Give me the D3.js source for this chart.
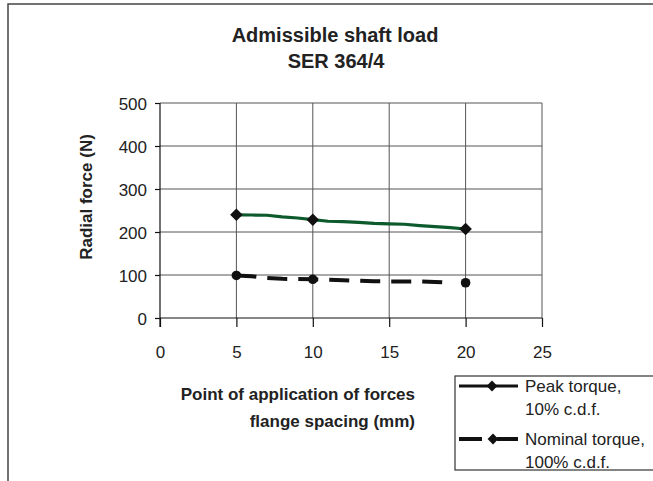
<!DOCTYPE html>
<html><head><meta charset="utf-8">
<script src="https://cdn.jsdelivr.net/npm/d3@7"></script>
<style>body{margin:0;background:#fff}svg{display:block;font-family:"Liberation Sans",Arial,sans-serif}</style>
</head><body>
<svg id="c" width="653" height="481"></svg>
<script>
const titleLines = ["Admissible shaft load", "SER 364/4"];
const yTitle = "Radial force (N)";
const xTitleLines = ["Point of application of forces", "flange spacing (mm)"];
const xTicks = [0, 5, 10, 15, 20, 25];
const yTicks = [0, 100, 200, 300, 400, 500];
const positions = [5,6,7,8,9,10,11,12,13,14,15,16,17,18,19,20];
const peakTorque = [240,239.5,239,235,232.5,228.7,225,224,222.5,220,219,218,215,212.5,210,207];
const nominalTorque = [99,97,93,91,90.5,90,89,88,86.5,85.5,85,85,85,84,82,82];
const markerPositions = [5, 10, 20];
const legendLabels = [["Peak torque,", "10% c.d.f."], ["Nominal torque,", "100% c.d.f."]];

const svg = d3.select("#c");
const x = d3.scaleLinear().domain([0, 25]).range([160, 542]);
const y = d3.scaleLinear().domain([0, 500]).range([318, 103]);

// outer frame
svg.append("rect").attr("x", 8).attr("y", 4).attr("width", 700).attr("height", 520)
  .attr("fill", "none").attr("stroke", "#444").attr("stroke-width", 1.5);

// title
svg.append("text").attr("x", 335).attr("y", 42).attr("text-anchor", "middle")
  .attr("font-weight", "bold").attr("font-size", 20).attr("fill", "#222").text(titleLines[0]);
svg.append("text").attr("x", 336).attr("y", 68).attr("text-anchor", "middle")
  .attr("font-weight", "bold").attr("font-size", 20).attr("fill", "#222").text(titleLines[1]);

// gridlines
const g = svg.append("g");
g.selectAll(".hg").data(yTicks.filter(d => d > 0)).join("line")
  .attr("x1", x(0)).attr("x2", x(25)).attr("y1", d => y(d)).attr("y2", d => y(d))
  .attr("stroke", "#555").attr("stroke-width", 1);
g.selectAll(".vg").data(xTicks.filter(d => d > 0)).join("line")
  .attr("x1", d => x(d)).attr("x2", d => x(d)).attr("y1", y(500)).attr("y2", y(0))
  .attr("stroke", "#555").attr("stroke-width", 1);

// axes
const xAxis = d3.axisBottom(x).tickValues(xTicks).tickSize(9).tickPadding(19);
const yAxis = d3.axisLeft(y).tickValues(yTicks).tickSize(5).tickPadding(8);
const gx = svg.append("g").attr("transform", `translate(0,${y(0)})`).call(xAxis);
const gy = svg.append("g").attr("transform", `translate(${x(0)},0)`).call(yAxis);
[gx, gy].forEach(a => {
  a.select(".domain").remove();
  a.selectAll("line").attr("stroke", "#111").attr("stroke-width", 1.2);
  a.selectAll("text").attr("font-size", 17).attr("fill", "#222")
    .attr("font-family", "'Liberation Sans',Arial,sans-serif");
});
gy.selectAll("text").attr("dy", "0.4em");
svg.append("line").attr("x1", x(0)).attr("x2", x(25)).attr("y1", y(0)).attr("y2", y(0)).attr("stroke", "#111").attr("stroke-width", 1.2);
svg.append("line").attr("x1", x(0)).attr("x2", x(0)).attr("y1", y(500)).attr("y2", y(0) + 9).attr("stroke", "#111").attr("stroke-width", 1.2);

// axis titles
svg.append("text").attr("transform", "translate(92,197) rotate(-90)").attr("text-anchor", "middle")
  .attr("font-weight", "bold").attr("font-size", 17).attr("fill", "#222").text(yTitle);
svg.append("text").attr("x", 415).attr("y", 400).attr("text-anchor", "end")
  .attr("font-weight", "bold").attr("font-size", 17).attr("fill", "#222").text(xTitleLines[0]);
svg.append("text").attr("x", 415).attr("y", 427).attr("text-anchor", "end")
  .attr("font-weight", "bold").attr("font-size", 17).attr("fill", "#222").text(xTitleLines[1]);

// lines
const line = d3.line().x(d => x(d[0])).y(d => y(d[1]));
const peakData = positions.map((p, i) => [p, peakTorque[i]]);
const nomData = positions.map((p, i) => [p, nominalTorque[i]]);
svg.append("path").datum(peakData).attr("d", line).attr("fill", "none")
  .attr("stroke", "#0d5a2c").attr("stroke-width", 3.2).attr("stroke-linejoin", "round");
svg.append("path").datum(nomData.filter(d => d[0] <= 19)).attr("d", line).attr("fill", "none")
  .attr("stroke", "#111").attr("stroke-width", 4).attr("stroke-dasharray", "20,11");

const diamond = d3.symbol().type(d3.symbolDiamond2).size(100);
svg.selectAll(".pm").data(peakData.filter(d => markerPositions.includes(d[0]))).join("path")
  .attr("d", diamond).attr("transform", d => `translate(${x(d[0])},${y(d[1])})`).attr("fill", "#111");
svg.selectAll(".nm").data(nomData.filter(d => markerPositions.includes(d[0]))).join("circle")
  .attr("cx", d => x(d[0])).attr("cy", d => y(d[1])).attr("r", 4.8).attr("fill", "#111");

// legend
const legendDiamond = d3.symbol().type(d3.symbolDiamond2).size(75);
svg.append("rect").attr("x", 455).attr("y", 376).attr("width", 210).attr("height", 94)
  .attr("fill", "#fff").attr("stroke", "#333").attr("stroke-width", 1.2);
const ly = [386, 439];
svg.append("line").attr("x1", 459).attr("x2", 518).attr("y1", ly[0]).attr("y2", ly[0]).attr("stroke", "#111").attr("stroke-width", 3);
svg.append("line").attr("x1", 459).attr("x2", 482).attr("y1", ly[1]).attr("y2", ly[1]).attr("stroke", "#111").attr("stroke-width", 4);
svg.append("line").attr("x1", 497).attr("x2", 518).attr("y1", ly[1]).attr("y2", ly[1]).attr("stroke", "#111").attr("stroke-width", 4);
svg.append("path").attr("d", legendDiamond).attr("transform", `translate(492,${ly[0]})`).attr("fill", "#111");
svg.append("path").attr("d", legendDiamond).attr("transform", `translate(493,${ly[1]})`).attr("fill", "#111");
legendLabels.forEach((lab, i) => {
  svg.append("text").attr("x", 525).attr("y", ly[i] + 6).attr("font-size", 17).attr("fill", "#222").text(lab[0]);
  svg.append("text").attr("x", 525).attr("y", ly[i] + 29).attr("font-size", 17).attr("fill", "#222").text(lab[1]);
});
</script>
</body></html>
